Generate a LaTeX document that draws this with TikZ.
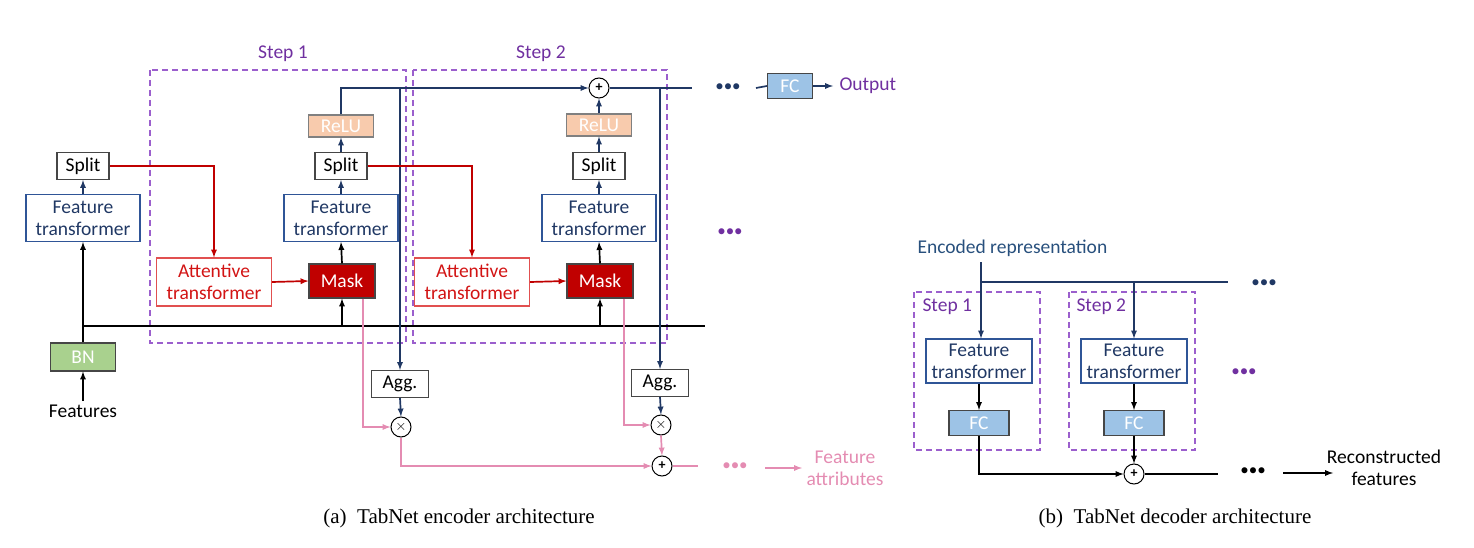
\documentclass[tikz,border=0pt]{standalone}
\usepackage{fontspec}
\setmainfont{Carlito}
\newfontfamily\capfont{Liberation Serif}
\usepackage{xcolor}
\definecolor{navy}{RGB}{32,56,100}
\definecolor{encblue}{RGB}{40,80,125}
\definecolor{ftblue}{RGB}{47,85,151}
\definecolor{attred}{RGB}{210,20,20}
\definecolor{attborder}{RGB}{225,80,80}
\definecolor{maskred}{RGB}{192,0,0}
\definecolor{relufill}{RGB}{248,203,173}
\definecolor{bnfill}{RGB}{169,209,142}
\definecolor{fcfill}{RGB}{157,195,230}
\definecolor{pinkline}{RGB}{228,140,178}
\definecolor{stepviolet}{RGB}{112,48,160}
\definecolor{dashviolet}{RGB}{155,95,205}
\definecolor{boxgray}{RGB}{70,70,70}

\begin{document}
\begin{tikzpicture}[x=1pt,y=-1pt]
      \tikzstyle{box}=[draw=boxgray, line width=1.1pt, inner sep=0pt,
        align=center, font=\fontsize{19.5}{22}\selectfont];
      \tikzstyle{ftbox}=[box, draw=ftblue, text=navy, minimum width=114pt,
        minimum height=47pt];
      \tikzstyle{attbox}=[box, draw=attborder, text=attred, minimum width=115pt,
        minimum height=48pt];
      \tikzstyle{maskbox}=[box, fill=maskred, text=white, minimum width=66pt,
        minimum height=34pt];
      \tikzstyle{splitbox}=[box, minimum width=52pt, minimum height=27pt];
      \tikzstyle{relubox}=[box, draw=gray, fill=relufill, text=white,
        minimum width=65pt, minimum height=22pt];
      \tikzstyle{fcbox}=[box, fill=fcfill, text=white, minimum width=45pt,
        minimum height=25pt];
      \tikzstyle{op}=[circle, draw=black, line width=1pt, fill=white,
        minimum size=20pt, inner sep=0pt, font=\fontsize{14}{14}\selectfont\bfseries];
      \tikzstyle{stepframe}=[draw=dashviolet, line width=1.4pt,
        dash pattern=on 6pt off 4pt];
      \tikzstyle{label}=[font=\fontsize{19.5}{22}\selectfont, align=center];
      \tikzstyle{dots}=[font=\fontsize{17}{17}\selectfont, inner sep=0pt];
      \tikzstyle{wire}=[line width=1.7pt];
      \useasboundingbox (0,0) rectangle (1474,548);

      % encoder: step frames
      \draw[stepframe] (150,70) rectangle (406,343);
      \draw[stepframe] (413,70) rectangle (667,343);
      \node[label, text=stepviolet] (step1) at (283,54) {Step 1};
      \node[label, text=stepviolet] (step2) at (541,54) {Step 2};

      % encoder: blocks
      \node[label] (feat) at (83,411) {Features};
      \node[box, fill=bnfill, text=white, minimum width=65pt,
        minimum height=28pt] (bn) at (83,357) {BN};
      \node[ftbox] (ftL) at (83,218) {Feature\\transformer};
      \node[splitbox] (splitL) at (83,166) {Split};

      \node[attbox] (att1) at (214,282) {Attentive\\transformer};
      \node[maskbox] (mask1) at (342,281) {Mask};
      \node[ftbox] (ft1) at (341,218) {Feature\\transformer};
      \node[splitbox] (split1) at (341,166) {Split};
      \node[relubox] (relu1) at (341,126) {ReLU};

      \node[attbox] (att2) at (472,282) {Attentive\\transformer};
      \node[maskbox] (mask2) at (600,281) {Mask};
      \node[ftbox] (ft2) at (599,218) {Feature\\transformer};
      \node[splitbox] (split2) at (599,166) {Split};
      \node[relubox] (relu2) at (599,125) {ReLU};

      \node[op] (plusT) at (599,88) {+};
      \node[splitbox, minimum width=57pt] (agg1) at (400,384) {Agg.};
      \node[op] (times1) at (401,427) {$\times$};
      \node[splitbox, minimum width=57pt] (agg2) at (660,383) {Agg.};
      \node[op] (times2) at (661,425) {$\times$};
      \node[op] (plusB) at (662,466) {+};

      \node[fcbox] (fc) at (790,86) {FC};
      \node[label, text=stepviolet, anchor=west] (output) at (836,86) {Output};
      \node[dots, text=navy] (dotsT) at (728,88) {•••};
      \node[dots, text=stepviolet] (dotsM) at (730,233) {•••};
      \node[dots, text=pinkline] (dotsB) at (735,467) {•••};
      \node[label, text=pinkline] (attr) at (845,468) {Feature\\attributes};

      \coordinate (busL) at (83,326);
      \coordinate (busR) at (705,326);
      \coordinate (topEnd) at (692,88);
      \coordinate (fcIn) at (756,88);
      \coordinate (fcOut) at (833,86);
      \coordinate (pinkEnd) at (698,466);
      \coordinate (attrIn) at (765,468);
      \coordinate (attrOut) at (802,468);

      % encoder: black wires
      \draw[wire] (busL) -- (busR);
      \draw[wire, -latex] (feat.north) -- (bn.south);
      \draw[wire, -latex] (bn.north) -- (ftL.south);
      \draw[wire, -latex] (mask1.south |- busR) -- (mask1.south);
      \draw[wire, -latex] (mask1.north) -- (ft1.south);
      \draw[wire, -latex] (mask2.south |- busR) -- (mask2.south);
      \draw[wire, -latex] (mask2.north) -- (ft2.south);

      % encoder: blue wires
      \draw[wire, navy, -latex] (ftL.north) -- (splitL.south);
      \draw[wire, navy, -latex] (ft1.north) -- (split1.south);
      \draw[wire, navy, -latex] (split1.north) -- (relu1.south);
      \draw[wire, navy, -latex] (relu1.north) |- (plusT.west);
      \draw[wire, navy, -latex] (ft2.north) -- (split2.south);
      \draw[wire, navy, -latex] (split2.north) -- (relu2.south);
      \draw[wire, navy, -latex] (relu2.north) -- (plusT.south);
      \draw[wire, navy] (plusT.east) -- (topEnd);
      \draw[wire, navy, -latex] (agg1.north |- plusT) -- (agg1.north);
      \draw[wire, navy, -latex] (agg1.south) -- (times1.north);
      \draw[wire, navy, -latex] (agg2.north |- plusT) -- (agg2.north);
      \draw[wire, navy, -latex] (agg2.south) -- (times2.north);
      \draw[wire, navy] (fcIn) -- (fc.west);
      \draw[wire, navy, -latex] (fc.east) -- (fcOut);

      % encoder: red wires
      \draw[wire, maskred, -latex] (splitL.east) -| (att1.north);
      \draw[wire, maskred, -latex] (att1.east) -- (mask1.west);
      \draw[wire, maskred, -latex] (split1.east) -| (att2.north);
      \draw[wire, maskred, -latex] (att2.east) -- (mask2.west);

      % encoder: pink wires
      \draw[wire, pinkline, -latex] ([xshift=21pt]mask1.south) |- (times1.west);
      \draw[wire, pinkline, -latex] (times1.south) |- (plusB.west);
      \draw[wire, pinkline, -latex] ([xshift=24pt]mask2.south) |- (times2.west);
      \draw[wire, pinkline, -latex] (times2.south) -- (plusB.north);
      \draw[wire, pinkline] (plusB.east) -- (pinkEnd);
      \draw[wire, pinkline, -latex] (attrIn) -- (attrOut);

      % decoder
      \node[label, text=encblue, anchor=west] (enc) at (914,248) {Encoded representation};
      \draw[stepframe] (914,292) rectangle (1040,450);
      \draw[stepframe] (1069,292) rectangle (1195,450);
      \node[label, text=stepviolet, anchor=west] (dstep1) at (919,307) {Step 1};
      \node[label, text=stepviolet, anchor=west] (dstep2) at (1073,307) {Step 2};
      \node[ftbox, minimum width=106pt, minimum height=44pt] (ftd1) at (979,361) {Feature\\transformer};
      \node[fcbox, minimum width=60pt] (fcd1) at (979,423) {FC};
      \node[ftbox, minimum width=106pt, minimum height=44pt] (ftd2) at (1134,361) {Feature\\transformer};
      \node[fcbox, minimum width=60pt] (fcd2) at (1134,423) {FC};
      \node[op] (plusD) at (1134,474) {+};
      \node[dots, text=navy] (dotsD1) at (1264,284) {•••};
      \node[dots, text=stepviolet] (dotsD2) at (1244,373) {•••};
      \node[dots, text=black] (dotsD3) at (1253,472) {•••};
      \node[label] (recon) at (1384,468) {Reconstructed\\features};

      \coordinate (encTop) at (981,262);
      \coordinate (encBusR) at (1228,282);
      \coordinate (decEnd) at (1218,474);
      \coordinate (reconIn) at (1283,473);
      \coordinate (reconOut) at (1333,473);

      \draw[wire, navy, -latex] (encTop) -- (ftd1.north -| encTop);
      \draw[wire, navy] (encTop |- encBusR) -- (encBusR);
      \draw[wire, navy, -latex] (ftd2.north |- encBusR) -- (ftd2.north);
      \draw[wire, -latex] (ftd1.south) -- (fcd1.north);
      \draw[wire, -latex] (ftd2.south) -- (fcd2.north);
      \draw[wire, -latex] (fcd1.south) |- (plusD.west);
      \draw[wire, -latex] (fcd2.south) -- (plusD.north);
      \draw[wire] (plusD.east) -- (decEnd);
      \draw[wire, -latex] (reconIn) -- (reconOut);

      % captions
      \node[font=\capfont\fontsize{21}{24}\selectfont] (capA) at (459,518)
        {(a)\ \ TabNet encoder architecture};
      \node[font=\capfont\fontsize{21}{24}\selectfont] (capB) at (1175,518)
        {(b)\ \ TabNet decoder architecture};
\end{tikzpicture}
\end{document}
